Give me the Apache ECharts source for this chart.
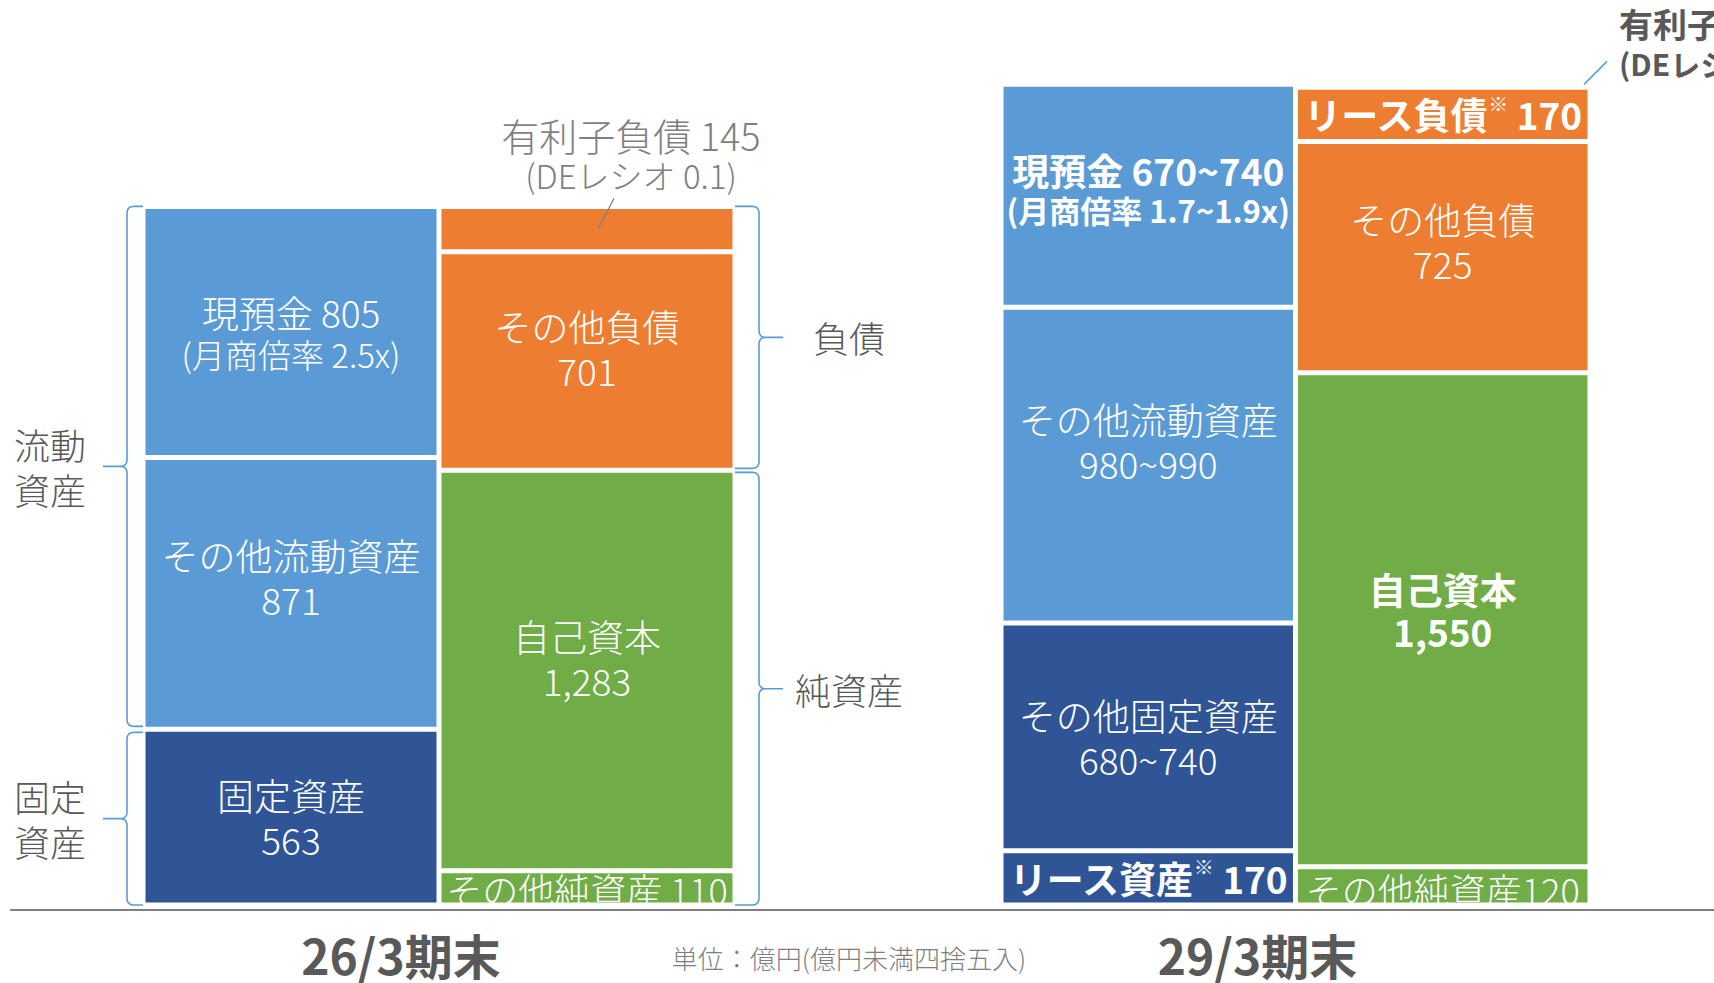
<!DOCTYPE html>
<html><head><meta charset="utf-8">
<script src="https://cdn.jsdelivr.net/npm/echarts@6/dist/echarts.min.js"></script>
<style>html,body{margin:0;padding:0;background:#fff}#c{width:1714px;height:983px}</style>
</head><body><div id="c"></div>
<script>
// ---------- data ----------
const periods = ['26/3期末', '29/3期末'];
const columnNames = ['資産', '負債・純資産'];
// 26/3期末 (bottom -> top)
const assets26Names = ['固定資産', 'その他流動資産', '現預金'];
const assets26Values = [563, 871, 805];
const assets26Labels = ['563', '871', '805'];
const liab26Names = ['その他純資産', '自己資本', 'その他負債', '有利子負債'];
const liab26Values = [110, 1283, 701, 145];
const liab26Labels = ['110', '1,283', '701', '145'];
// 29/3期末 (bottom -> top)
const assets29Names = ['リース資産', 'その他固定資産', 'その他流動資産', '現預金'];
const assets29Values = [170, 715, 990, 700];
const assets29Labels = ['170', '680~740', '980~990', '670~740'];
const liab29Names = ['その他純資産', '自己資本', 'その他負債', 'リース負債'];
const liab29Values = [120, 1550, 725, 170];
const liab29Labels = ['120', '1,550', '725', '170'];
const cashMultiples = ['2.5x', '1.7~1.9x'];
const deRatios = ['0.1', '0.1'];
const debt29Name = '有利子負債';
const debt29Label = '170';
const groupNames = ['流動\n資産', '固定\n資産', '負債', '純資産'];
const unitNote = '単位：億円(億円未満四捨五入)';

// ---------- styles ----------
const FF = '"Noto Sans CJK JP", "Noto Sans", sans-serif';
const C = { blue: '#5B9BD5', dark: '#2F5597', orange: '#ED7D31', green: '#70AD47', gray: '#7F7F7F', dgray: '#595959' };
const rich = {
  w1: { color: '#fff', fontFamily: FF, fontWeight: 300, fontSize: 37, lineHeight: 44 },
  w2: { color: '#fff', fontFamily: FF, fontWeight: 300, fontSize: 33, lineHeight: 40 },
  w3: { color: '#fff', fontFamily: FF, fontWeight: 300, fontSize: 36, lineHeight: 36 },
  b1: { color: '#fff', fontFamily: FF, fontWeight: 'bold', fontSize: 37, lineHeight: 42 },
  b2: { color: '#fff', fontFamily: FF, fontWeight: 'bold', fontSize: 31, lineHeight: 38 },
  bs: { color: '#fff', fontFamily: FF, fontWeight: 'bold', fontSize: 20, lineHeight: 42, verticalAlign: 'top' },
  g1: { color: C.gray, fontFamily: FF, fontWeight: 300, fontSize: 38, lineHeight: 42 },
  g2: { color: C.gray, fontFamily: FF, fontWeight: 300, fontSize: 33, lineHeight: 40 }
};

function seg(g, col, value, color, fmt, extra) {
  return {
    type: 'bar', xAxisIndex: g, yAxisIndex: g, stack: 's' + g, barCategoryGap: '0%', clip: false,
    data: col === 0 ? [value, '-'] : ['-', value],
    itemStyle: { color: color, borderColor: '#fff', borderWidth: 2.5 },
    label: Object.assign({ show: true, position: 'inside', formatter: fmt, rich: rich }, extra || {}),
    emphasis: { disabled: true }, silent: true
  };
}
const two = (s1, a, s2, b) => `{${s1}|${a}}\n{${s2}|${b}}`;

const series = [
  // 26/3 assets
  seg(0, 0, assets26Values[0], C.dark, two('w1', assets26Names[0], 'w1', assets26Labels[0])),
  seg(0, 0, assets26Values[1], C.blue, two('w1', assets26Names[1], 'w1', assets26Labels[1]), { offset: [0, -16] }),
  seg(0, 0, assets26Values[2], C.blue, two('w1', assets26Names[2] + ' ' + assets26Labels[2], 'w2', '(月商倍率 ' + cashMultiples[0] + ')')),
  // 26/3 liabilities & equity
  seg(0, 1, liab26Values[0], C.green, `{w3|${liab26Names[0]} ${liab26Labels[0]}}`, { offset: [0, 1] }),
  seg(0, 1, liab26Values[1], C.green, two('w1', liab26Names[1], 'w1', liab26Labels[1]), { offset: [0, -13] }),
  seg(0, 1, liab26Values[2], C.orange, two('w1', liab26Names[2], 'w1', liab26Labels[2]), { offset: [0, -13] }),
  seg(0, 1, liab26Values[3], C.orange, two('g1', liab26Names[3] + ' ' + liab26Labels[3], 'g2', '(DEレシオ ' + deRatios[0] + ')'), { position: 'top', distance: 5, offset: [44, -6] }),
  // 29/3 assets
  seg(1, 0, assets29Values[0], C.dark, `{b1|${assets29Names[0]}}{bs|※}{b1| ${assets29Labels[0]}}`),
  seg(1, 0, assets29Values[1], C.dark, two('w1', assets29Names[1], 'w1', assets29Labels[1])),
  seg(1, 0, assets29Values[2], C.blue, two('w1', assets29Names[2], 'w1', assets29Labels[2]), { offset: [0, -24] }),
  seg(1, 0, assets29Values[3], C.blue, two('b1', assets29Names[3] + ' ' + assets29Labels[3], 'b2', '(月商倍率 ' + cashMultiples[1] + ')'), { offset: [0, -7] }),
  // 29/3 liabilities & equity
  seg(1, 1, liab29Values[0], C.green, `{w3|${liab29Names[0]}${liab29Labels[0]}}`, { offset: [0, 3] }),
  seg(1, 1, liab29Values[1], C.green, two('b1', liab29Names[1], 'b1', liab29Labels[1]), { offset: [0, -10] }),
  seg(1, 1, liab29Values[2], C.orange, two('w1', liab29Names[2], 'w1', liab29Labels[2]), { offset: [0, -16] }),
  seg(1, 1, liab29Values[3], C.orange, `{b1|${liab29Names[3]}}{bs|※}{b1| ${liab29Labels[3]}}`)
];

function catAxis(g) {
  return {
    type: 'category', gridIndex: g, data: columnNames,
    axisLine: { show: false }, axisTick: { show: false }, axisLabel: { show: false },
    name: periods[g], nameLocation: 'middle', nameGap: 25,
    nameTextStyle: { fontFamily: FF, fontWeight: 'bold', fontSize: 48, color: C.dgray, padding: [0, 76, 0, 0] }
  };
}
function valAxis(g, max) {
  return { type: 'value', gridIndex: g, min: 0, max: max, show: false, splitLine: { show: false } };
}

const chart = echarts.init(document.getElementById('c'), null, { renderer: 'svg' });
chart.setOption({
  animation: false,
  backgroundColor: '#fff',
  grid: [
    { left: 143, right: 979, top: 22, bottom: 73 },
    { left: 1001, right: 124, top: 22, bottom: 73 },
    { left: 11, right: 0, top: 22, bottom: 73 }
  ],
  xAxis: [catAxis(0), catAxis(1), {
    type: 'value', gridIndex: 2, min: 0, max: 1, z: 10,
    axisLine: { show: true, lineStyle: { color: '#808080', width: 2 } },
    axisTick: { show: false }, axisLabel: { show: false }, splitLine: { show: false }
  }],
  yAxis: [valAxis(0, 2830), valAxis(1, 2770), valAxis(2, 1)],
  series: series
});

// ---------- annotations derived from the axes ----------
const px = (g, cat, v) => chart.convertToPixel({ gridIndex: g }, [cat, v]);
const cum = arr => arr.reduce((a, v) => { a.push(a[a.length - 1] + v); return a; }, [0]);

function brace(xEdge, xv, xTip, yTop, yBot, dir) {
  const r = 7, yMid = (yTop + yBot) / 2, pts = [], s = -dir;
  const quad = (p0, p1, p2) => {
    for (let i = 1; i <= 8; i++) {
      const t = i / 8, u = 1 - t;
      pts.push([u * u * p0[0] + 2 * u * t * p1[0] + t * t * p2[0], u * u * p0[1] + 2 * u * t * p1[1] + t * t * p2[1]]);
    }
  };
  pts.push([xEdge, yTop], [xv + s * r, yTop]);
  quad([xv + s * r, yTop], [xv, yTop], [xv, yTop + r]);
  pts.push([xv, yMid - r]);
  quad([xv, yMid - r], [xv, yMid], [xv + dir * r, yMid]);
  pts.push([xTip, yMid], [xv + dir * r, yMid]);
  quad([xv + dir * r, yMid], [xv, yMid], [xv, yMid + r]);
  pts.push([xv, yBot - r]);
  quad([xv, yBot - r], [xv, yBot], [xv + s * r, yBot]);
  pts.push([xEdge, yBot]);
  return { type: 'polyline', silent: true, z: 100, shape: { points: pts }, style: { stroke: C.blue, lineWidth: 1.6, fill: null } };
}
function txt(x, y, text, opts) {
  return {
    type: 'text', x: x, y: y, silent: true, z: 100,
    style: Object.assign({
      text: text, fill: C.dgray, fontFamily: FF, fontWeight: 300, fontSize: 36, lineHeight: 45,
      align: 'center', verticalAlign: 'middle', textAlign: 'center', textVerticalAlign: 'middle'
    }, opts || {})
  };
}

// grid 0
const c0 = px(0, 0, 0)[0], c1 = px(0, 1, 0)[0], bw = c1 - c0;
const colL = c0 - bw / 2, colR = c1 + bw / 2;
const a26 = cum(assets26Values), l26 = cum(liab26Values);
const yA = v => px(0, 0, v)[1];
const yBase = yA(0);
const yTop26 = yA(a26[3]), yFix26 = yA(a26[1]);
const yEq26 = yA(l26[2]), yTopL26 = yA(l26[4]), yDebt26 = yA(l26[3]);
const xvL = colL - 16, tipL = xvL - 24, xvR = colR + 24, tipR = xvR + 24;

// grid 1
const d0 = px(1, 0, 0)[0], d1 = px(1, 1, 0)[0], bw2 = d1 - d0;
const colR2 = d1 + bw2 / 2;
const l29 = cum(liab29Values);
const yTopL29 = px(1, 1, l29[4])[1];

const graphics = [
  brace(colL, xvL, tipL, yTop26, yFix26 - 3, -1),
  brace(colL, xvL, tipL, yFix26 + 3, yBase, -1),
  brace(colR, xvR, tipR, yTopL26, yEq26 - 2, 1),
  brace(colR, xvR, tipR, yEq26 + 2, yBase, 1),
  txt(tipL - 17, (yTop26 + yFix26 - 3) / 2, groupNames[0], { align: 'right', textAlign: 'right' }),
  txt(tipL - 17, (yFix26 + 3 + yBase) / 2, groupNames[1], { align: 'right', textAlign: 'right' }),
  txt(tipR + 66, (yTopL26 + yEq26 - 2) / 2, groupNames[2]),
  txt(tipR + 66, (yEq26 + 2 + yBase) / 2, groupNames[3]),
  { type: 'line', silent: true, z: 100, shape: { x1: c1 + 27, y1: yTopL26 - 8, x2: c1 + 11, y2: (yTopL26 + yDebt26) / 2 }, style: { stroke: C.gray, lineWidth: 1.2 } },
  { type: 'line', silent: true, z: 100, shape: { x1: colR2 - 6, y1: yTopL29 - 3, x2: colR2 + 17, y2: yTopL29 - 26 }, style: { stroke: C.blue, lineWidth: 1.5 } },
  txt(colR2 + 29, yTopL29 - 64, debt29Name + ' ' + debt29Label, { align: 'left', textAlign: 'left', fontWeight: 'bold', fontSize: 34 }),
  txt(colR2 + 29, yTopL29 - 24, '(DEレシオ ' + deRatios[1] + ')', { align: 'left', textAlign: 'left', fontWeight: 'bold', fontSize: 30 }),
  txt(849, yBase + 53, unitNote, { fill: C.gray, fontSize: 26 })
];
chart.setOption({ graphic: graphics });
</script>
</body></html>
